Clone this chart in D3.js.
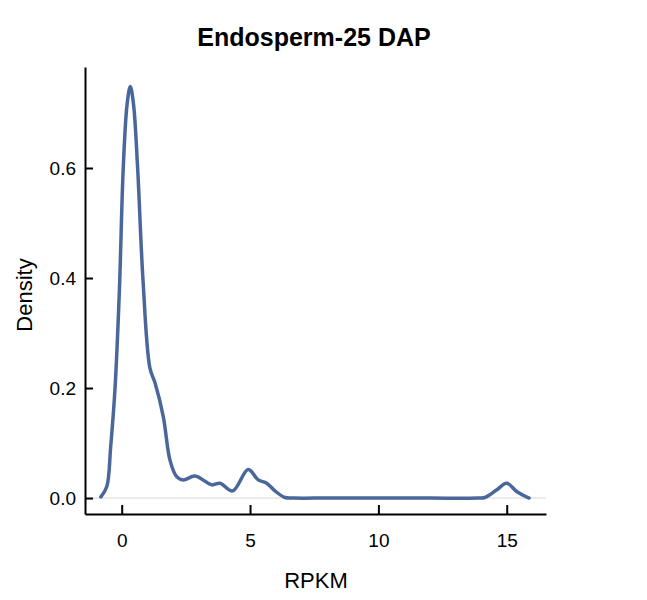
<!DOCTYPE html>
<html>
<head>
<meta charset="utf-8">
<script src="https://cdn.jsdelivr.net/npm/d3@7"></script>
<style>
    body { margin: 0; background: #fff; }
    text { font-family: "Liberation Sans", Arial, Helvetica, sans-serif; }
</style>
</head>
<body>
<div id="chart"></div>
<script>

// density curve
var rpkm = [-0.81, -0.58, -0.43, -0.26, -0.09, 0.06, 0.21, 0.335, 0.46, 0.62, 0.83, 1.10, 1.30,
    1.62, 1.88, 2.14, 2.40, 2.86, 3.51, 3.83, 4.32, 4.93, 5.32, 5.65, 5.97, 6.36, 6.7,
    8, 10, 12, 13.9, 14.15, 14.6, 15.0, 15.4, 15.87];
var density = [0.002, 0.021, 0.093, 0.20, 0.378, 0.60, 0.716, 0.748, 0.716, 0.60, 0.396, 0.236, 0.209,
    0.148, 0.069, 0.039, 0.033, 0.040, 0.024, 0.027, 0.013, 0.052, 0.033, 0.027, 0.013, 0.001, 0,
    0, 0, 0, 0, 0.001, 0.0145, 0.027, 0.0115, 0.0];

var xTicks = [0, 5, 10, 15];
var yTicks = [0.0, 0.2, 0.4, 0.6];

var chartTitle = "Endosperm-25 DAP";
var xLabel = "RPKM";
var yLabel = "Density";

var width = 647, height = 600;

var svg = d3.select("#chart").append("svg").attr("width", width).attr("height", height);

var x = d3.scaleLinear().domain([-1.43, 16.53]).range([85, 546]);
var y = d3.scaleLinear().domain([-0.029, 0.7836]).range([514, 67]);

// light baseline at zero
svg.append("line")
    .attr("x1", x.range()[0]).attr("x2", x.range()[1])
    .attr("y1", y(0)).attr("y2", y(0))
    .attr("stroke", "#d8d8d8").attr("stroke-width", 1);

var xAxis = svg.append("g")
    .attr("transform", "translate(0," + y.range()[0] + ")")
    .call(d3.axisBottom(x).tickValues(xTicks).tickFormat(d3.format("d"))
        .tickSizeInner(-9).tickSizeOuter(0).tickPadding(20));

var yAxis = svg.append("g")
    .attr("transform", "translate(" + x.range()[0] + ",0)")
    .call(d3.axisLeft(y).tickValues(yTicks).tickFormat(d3.format(".1f"))
        .tickSizeInner(-8).tickSizeOuter(0).tickPadding(9));

[xAxis, yAxis].forEach(function (g) {
    g.select(".domain").attr("stroke", "#000").attr("stroke-width", 2);
    g.selectAll(".tick line").attr("stroke", "#000").attr("stroke-width", 2);
    g.selectAll(".tick text").attr("fill", "#000").style("font-size", "19px");
});

var pts = rpkm.map(function (d, i) { return [d, density[i]]; });

var line = d3.line()
    .x(function (d) { return x(d[0]); })
    .y(function (d) { return y(d[1]); })
    .curve(d3.curveCatmullRom.alpha(0.5));

svg.append("path")
    .datum(pts)
    .attr("d", line)
    .attr("fill", "none")
    .attr("stroke", "#4a679c")
    .attr("stroke-width", 3.5)
    .attr("stroke-linejoin", "round")
    .attr("stroke-linecap", "round");

svg.append("text")
    .attr("x", 314).attr("y", 46)
    .attr("text-anchor", "middle")
    .style("font-size", "25px").style("font-weight", "bold")
    .text(chartTitle);

svg.append("text")
    .attr("x", 316).attr("y", 588)
    .attr("text-anchor", "middle")
    .style("font-size", "22px")
    .text(xLabel);

svg.append("text")
    .attr("transform", "translate(32,295) rotate(-90)")
    .attr("text-anchor", "middle")
    .style("font-size", "22px")
    .text(yLabel);

</script>
</body>
</html>
